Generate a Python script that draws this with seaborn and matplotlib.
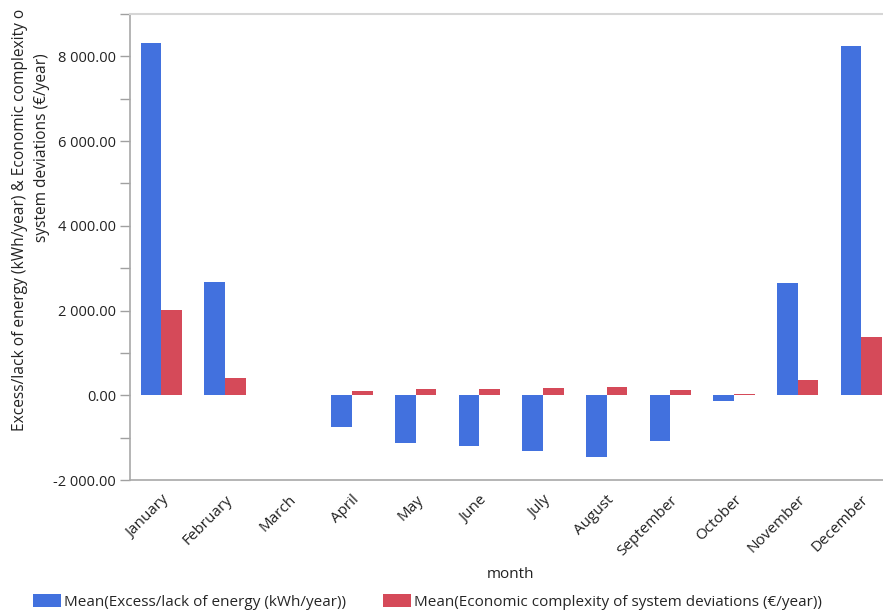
import numpy as np
import pandas as pd
import matplotlib
matplotlib.use("Agg")
import matplotlib.pyplot as plt
import matplotlib.ticker as mticker
from matplotlib.patches import Patch
import seaborn as sns

# ---------------------------------------------------------------- data
MONTHS = ["January", "February", "March", "April", "May", "June", "July",
          "August", "September", "October", "November", "December"]
ENERGY = [8320, 2675, np.nan, -760, -1130, -1195, -1305, -1465, -1075, -145, 2640, 8240]
COST = [2010, 410, np.nan, 90, 140, 145, 175, 190, 125, 25, 370, 1375]
S_ENERGY = "Mean(Excess/lack of energy (kWh/year))"
S_COST = "Mean(Economic complexity of system deviations (€/year))"
BLUE, RED = "#4271de", "#d54a59"

df = pd.concat([
    pd.DataFrame({"month": MONTHS, "value": ENERGY, "series": S_ENERGY}),
    pd.DataFrame({"month": MONTHS, "value": COST, "series": S_COST}),
], ignore_index=True)

sns.set_theme(style="white")
plt.rcParams["font.family"] = ["Open Sans", "DejaVu Sans"]
TXT = "#222222"

fig = plt.figure(figsize=(8.83, 6.14), dpi=100)
# axes run a little past the right edge, as in the original
ax = fig.add_axes([130 / 883, 1 - 480 / 614, 763 / 883, 466 / 614])

sns.barplot(data=df, x="month", y="value", hue="series", order=MONTHS,
            hue_order=[S_ENERGY, S_COST], palette=[BLUE, RED], width=0.65,
            saturation=1, linewidth=0, errorbar=None, ax=ax)
if ax.get_legend():
    ax.get_legend().remove()

ax.set_xlim(-0.49, 11.5)
ax.set_ylim(-2000, 9000)
ax.yaxis.set_major_locator(mticker.MultipleLocator(2000))
ax.yaxis.set_minor_locator(mticker.MultipleLocator(1000))
ax.yaxis.set_major_formatter(mticker.FuncFormatter(lambda v, p: f"{v:,.2f}".replace(",", " ")))
ax.tick_params(axis="y", which="both", left=True, length=7, width=1, color="#a0a0a0",
               labelsize=10.5, labelcolor=TXT, pad=3)
ax.tick_params(axis="x", bottom=False, labelsize=11, labelcolor=TXT, pad=3)
for lab in ax.get_xticklabels():
    lab.set_rotation(45)
    lab.set_ha("right")
    lab.set_rotation_mode("anchor")

for side in ["left", "bottom"]:
    ax.spines[side].set_color("#a8a8a8")
    ax.spines[side].set_linewidth(1.2)
ax.spines["top"].set_color("#d6d6d6")
ax.spines["top"].set_linewidth(1.5)
ax.spines["right"].set_visible(False)

ax.set_xlabel("")
ax.set_ylabel("")
fig.text(511 / 883, 1 - 575 / 614, "month", ha="center", va="center", fontsize=11, color=TXT)

# y label: two lines, the first one is truncated as in the original
fig.text(20 / 883, 1 - 431 / 614, "Excess/lack of energy (kWh/year) & Economic complexity o",
         rotation=90, ha="center", va="bottom", fontsize=11.2, color=TXT)
fig.text(42 / 883, 1 - 148 / 614, "system deviations (€/year)",
         rotation=90, ha="center", va="center", fontsize=11.2, color=TXT)

handles = [Patch(facecolor=BLUE, edgecolor="none"), Patch(facecolor=RED, edgecolor="none")]
fig.legend(handles, [S_ENERGY, S_COST], loc="lower left", bbox_to_anchor=(24 / 883, -0.008),
           ncol=2, frameon=False, fontsize=11, handlelength=1.85, handleheight=0.9,
           handletextpad=0.2, columnspacing=2.4, borderaxespad=0.2)

fig.savefig("out.png", dpi=100)
